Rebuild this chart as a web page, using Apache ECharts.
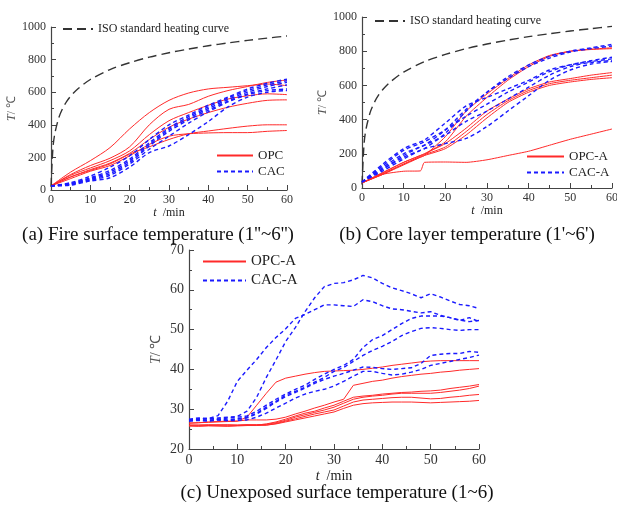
<!DOCTYPE html>
<html>
<head>
<meta charset="utf-8">
<script src="https://cdn.jsdelivr.net/npm/echarts@6/dist/echarts.min.js"></script>
<style>
  html, body { margin: 0; padding: 0; background: #fff; }
  #chart { width: 617px; height: 509px; }
</style>
</head>
<body>
<div id="chart"></div>
<script>
// ISO 834 standard heating curve
const tIso = [0, 0.5, 1, 2, 3, 4, 5, 7, 10, 15, 20, 25, 30, 35, 40, 45, 50, 55, 60]
const isoTemp = [20, 261, 349, 445, 502, 544, 576, 624, 678, 739, 781, 815, 842, 865, 885, 902, 918, 932, 945]

// (a) fire surface
const tA = [0, 5, 10, 15, 20, 25, 30, 35, 40, 45, 50, 55, 60]
const opcFire = [
  [25, 110, 180, 260, 375, 475, 550, 595, 620, 630, 640, 650, 640],
  [25, 95, 150, 195, 265, 400, 495, 525, 575, 610, 635, 660, 675],
  [25, 90, 135, 180, 240, 340, 425, 475, 520, 558, 578, 590, 585],
  [25, 80, 125, 165, 225, 310, 385, 435, 475, 508, 532, 550, 553],
  [25, 80, 120, 160, 220, 265, 310, 345, 362, 378, 392, 400, 400],
  [25, 70, 115, 150, 210, 280, 330, 345, 350, 352, 352, 360, 365]
]
const cacFire = [
  [25, 45, 85, 140, 210, 310, 400, 460, 520, 570, 620, 655, 680],
  [25, 40, 75, 120, 190, 290, 380, 450, 510, 565, 610, 645, 670],
  [25, 40, 70, 110, 180, 280, 370, 440, 500, 555, 600, 635, 660],
  [25, 35, 65, 100, 170, 270, 360, 430, 490, 545, 590, 620, 645],
  [25, 35, 60, 90, 160, 250, 330, 410, 480, 540, 585, 610, 620],
  [25, 30, 55, 75, 140, 230, 270, 340, 420, 510, 570, 600, 610]
]

// (b) core layer
const tB = [0, 5, 10, 14, 15, 20, 25, 30, 35, 40, 45, 50, 55, 60]
const opcCore = [
  [30, 90, 150, 190, 200, 270, 420, 530, 630, 710, 770, 800, 810, 815],
  [30, 80, 140, 180, 190, 300, 450, 550, 640, 720, 775, 800, 812, 820],
  [30, 90, 150, 190, 200, 260, 350, 450, 520, 580, 620, 640, 660, 675],
  [30, 85, 140, 185, 195, 240, 330, 430, 510, 570, 610, 630, 645, 660],
  [30, 80, 135, 180, 190, 230, 310, 410, 500, 560, 600, 620, 635, 645],
  [30, 80, 98, 100, 150, 152, 150, 165, 190, 215, 250, 285, 315, 345]
]
const cacCore = [
  [35, 110, 180, 220, 230, 320, 450, 560, 650, 720, 770, 800, 820, 840],
  [35, 120, 200, 240, 250, 340, 460, 560, 640, 710, 760, 795, 815, 830],
  [35, 130, 220, 260, 270, 340, 420, 490, 560, 620, 680, 720, 745, 765],
  [35, 140, 230, 270, 280, 380, 480, 530, 580, 630, 690, 720, 740, 755],
  [35, 110, 190, 240, 250, 310, 390, 450, 520, 590, 660, 710, 735, 745],
  [35, 100, 170, 220, 230, 260, 290, 360, 450, 540, 630, 690, 725, 740]
]

// (c) unexposed surface
const tC = [0, 2, 4, 6, 8, 10, 12, 14, 16, 18, 20, 22, 24, 26, 28, 30, 32, 34, 36, 38, 40, 42, 44, 46, 48, 50, 52, 54, 56, 58, 60]
const opcBack = [
  [26.5, 26.6, 26.7, 26.8, 26.9, 27, 28, 31, 34, 36.8, 37.8, 38.3, 38.8, 39.2, 39.5, 39.6, 39.7, 39.8, 40, 40.3, 40.6, 41, 41.3, 41.6, 41.9, 42.1, 42.2, 42.2, 42.2, 42.2, 42.2],
  [26.5, 26.6, 26.8, 26.9, 27, 27, 27.3, 27.3, 27.3, 27.5, 28, 28.8, 29.5, 30.3, 31, 31.8, 32.5, 36, 36.5, 37, 37.3, 37.8, 38.2, 38.5, 38.8, 39, 39.3, 39.5, 39.8, 40, 40.2],
  [26, 26, 26.1, 26, 26.1, 26, 26.1, 26, 26.3, 26.8, 27.5, 28.3, 29, 29.5, 30.3, 31, 32, 33, 33.3, 33.5, 33.8, 34, 34.2, 34.3, 34.5, 34.6, 34.8, 35.2, 35.5, 35.8, 36.2],
  [26, 26, 26, 26.1, 26, 26, 26.1, 26.1, 26.2, 26.6, 27.2, 28, 28.6, 29.2, 29.8, 30.5, 31.5, 32.5, 33, 33.3, 33.5, 33.8, 34, 34, 34, 34, 34.2, 34.5, 34.8, 35.2, 35.8],
  [25.8, 25.8, 25.9, 25.8, 25.8, 25.9, 25.9, 26, 26, 26.4, 27, 27.6, 28.2, 28.8, 29.3, 29.8, 30.8, 31.8, 32.3, 32.5, 32.7, 32.9, 33, 33, 32.8, 32.6, 32.7, 33, 33.2, 33.5, 33.7],
  [25.8, 25.7, 25.8, 25.8, 25.7, 25.8, 25.9, 25.9, 26, 26.3, 26.8, 27.3, 27.8, 28.3, 28.8, 29.3, 30.2, 31, 31.4, 31.6, 31.7, 31.8, 31.8, 31.8, 31.7, 31.6, 31.7, 31.8, 31.9, 32, 32.2]
]
const cacBack = [
  [27.5, 27.8, 27.6, 28.4, 32, 37, 39.8, 42.5, 45.5, 48, 50.2, 52.8, 53.8, 55, 56.2, 56.2, 56, 55.8, 57.5, 57, 56, 55.2, 55, 54.6, 54.2, 54.5, 53.6, 53, 52.4, 52, 52.3],
  [27.3, 27.6, 27.5, 27.8, 28, 28.2, 29.5, 33, 38, 42.4, 47, 50.5, 54.5, 58, 60.8, 61.6, 61.8, 62.5, 63.6, 63, 61.6, 60.5, 59.8, 59, 58, 59, 58.2, 57.2, 56.3, 56, 55.3],
  [27.3, 27.5, 27.8, 27.5, 27.8, 28, 28.3, 29.5, 31, 32.5, 33.8, 35, 36, 37.5, 38.8, 40, 41, 42.5, 45.5, 47.5, 48.5, 50, 51.5, 52.8, 53.4, 53.4, 53.4, 53, 52.3, 53, 52],
  [27.2, 27.4, 27.2, 27.5, 27.3, 27.6, 28, 29, 30.5, 32, 33.5, 34.5, 35.5, 36.8, 38, 39.5, 40.5, 42, 43.5, 44.8, 45.8, 47, 48.5, 49.5, 50.3, 50.5, 50.3, 50, 49.8, 50, 50],
  [27, 27.3, 27.1, 27.4, 27.2, 27.5, 27.8, 28.8, 30.2, 31.8, 33.2, 34.2, 35.3, 36.5, 37.5, 38.3, 39, 39.8, 40.6, 40.5, 40.2, 40, 40.2, 40.4, 41.5, 43.5, 43.8, 44, 44, 44.5, 44.3],
  [27, 27.2, 27, 27.3, 27.1, 27.2, 27.3, 28, 29, 30.3, 31.5, 32.8, 33.8, 34.5, 35, 35.8, 37, 38.3, 39.5, 39.5, 39, 38.6, 38.8, 39.3, 40, 41, 41.5, 42, 42.5, 43, 43.6]
]

const serif = '"Liberation Serif", "Times New Roman", serif'
const RED = '#ff2a2a'
const BLUE = '#1a1aff'
const ISO_NAME = 'ISO standard heating curve'

function pairs(ts, vs) {
  return ts.map((t, i) => [t, vs[i]])
}

function xAxisFor(gridIndex, labelSize, gap) {
  return {
    gridIndex: gridIndex,
    type: 'value',
    min: 0,
    max: 60,
    interval: 10,
    name: '{i|t}  /min',
    nameLocation: 'middle',
    nameGap: gap,
    nameTextStyle: {
      fontFamily: serif, fontSize: labelSize, color: '#222',
      rich: { i: { fontStyle: 'italic', fontFamily: serif, fontSize: labelSize, color: '#222' } }
    },
    axisLine: { lineStyle: { color: '#444', width: 1.2 } },
    axisTick: { inside: true, length: 5, lineStyle: { color: '#444' } },
    minorTick: { show: true, splitNumber: 2, length: 3, lineStyle: { color: '#444' } },
    axisLabel: { fontFamily: serif, fontSize: labelSize, color: '#333', margin: 4 },
    splitLine: { show: false }
  }
}

function yAxisFor(gridIndex, min, max, interval, labelSize, gap) {
  return {
    gridIndex: gridIndex,
    type: 'value',
    min: min,
    max: max,
    interval: interval,
    name: '{i|T}/ \u2103',
    nameLocation: 'middle',
    nameRotate: 90,
    nameGap: gap,
    nameTextStyle: {
      fontFamily: serif, fontSize: labelSize, color: '#555',
      rich: { i: { fontStyle: 'italic', fontFamily: serif, fontSize: labelSize, color: '#555' } }
    },
    axisLine: { show: true, lineStyle: { color: '#444', width: 1.2 } },
    axisTick: { show: true, inside: true, length: 5, lineStyle: { color: '#444' } },
    minorTick: { show: true, splitNumber: 2, length: 3, lineStyle: { color: '#444' } },
    axisLabel: { fontFamily: serif, fontSize: labelSize, color: '#333', margin: 5, formatter: v => String(v) },
    splitLine: { show: false }
  }
}

function lineSeries(name, idx, data, dashed, smooth) {
  return {
    name: name,
    type: 'line',
    xAxisIndex: idx,
    yAxisIndex: idx,
    data: data,
    symbol: 'none',
    smooth: smooth,
    animation: false,
    lineStyle: dashed
      ? { color: BLUE, width: 1.4, type: [4, 3] }
      : { color: RED, width: 1 },
    itemStyle: { color: dashed ? BLUE : RED }
  }
}

function isoSeries(idx) {
  return {
    name: ISO_NAME,
    type: 'line',
    xAxisIndex: idx,
    yAxisIndex: idx,
    data: pairs(tIso, isoTemp),
    symbol: 'none',
    smooth: 0.3,
    animation: false,
    lineStyle: { color: '#333', width: 1.4, type: [9, 5] },
    itemStyle: { color: '#333' }
  }
}

const series = [isoSeries(0), isoSeries(1)]
opcFire.forEach(v => series.push(lineSeries('OPC', 0, pairs(tA, v), false, 0.3)))
cacFire.forEach(v => series.push(lineSeries('CAC', 0, pairs(tA, v), true, 0.3)))
opcCore.forEach(v => series.push(lineSeries('OPC-A', 1, pairs(tB, v), false, 0.2)))
cacCore.forEach(v => series.push(lineSeries('CAC-A', 1, pairs(tB, v), true, 0.3)))
opcBack.forEach(v => series.push(lineSeries('OPC-A', 2, pairs(tC, v), false, false)))
cacBack.forEach(v => series.push(lineSeries('CAC-A', 2, pairs(tC, v), true, false)))

const legendText = size => ({ fontFamily: serif, fontSize: size, color: '#222' })
// legend shows only the line sample, not the symbol
const noSymbol = { opacity: 0 }

const chart = echarts.init(document.getElementById('chart'), null, { renderer: 'canvas' })
chart.setOption({
  backgroundColor: '#fff',
  animation: false,
  title: [
    { text: '(a) Fire surface temperature (1\'\'~6\'\')', left: 153, top: 221, textAlign: 'center',
      textStyle: { fontFamily: serif, fontSize: 19, fontWeight: 'normal', color: '#111' } },
    { text: '(b) Core layer temperature (1\'~6\')', left: 462, top: 221, textAlign: 'center',
      textStyle: { fontFamily: serif, fontSize: 19, fontWeight: 'normal', color: '#111' } },
    { text: '(c) Unexposed surface temperature (1~6)', left: 332, top: 479, textAlign: 'center',
      textStyle: { fontFamily: serif, fontSize: 19, fontWeight: 'normal', color: '#111' } }
  ],
  grid: [
    { left: 51, top: 27, width: 236, height: 163, outerBoundsMode: 'none' },
    { left: 362, top: 17, width: 250, height: 171, outerBoundsMode: 'none' },
    { left: 189, top: 250, width: 290, height: 199, outerBoundsMode: 'none' }
  ],
  xAxis: [xAxisFor(0, 12, 14), xAxisFor(1, 12, 14), xAxisFor(2, 14, 20)],
  yAxis: [
    yAxisFor(0, 0, 1000, 200, 12, 29),
    yAxisFor(1, 0, 1000, 200, 12, 33),
    yAxisFor(2, 20, 70, 10, 14, 26)
  ],
  legend: [
    { data: [ISO_NAME], left: 62, top: 23, padding: 0, itemWidth: 30, itemHeight: 10, itemStyle: noSymbol, textStyle: legendText(12), selectedMode: false },
    { data: ['OPC', 'CAC'], orient: 'vertical', left: 216, top: 149, padding: 0, itemGap: 3, itemWidth: 36, itemHeight: 10, itemStyle: noSymbol, textStyle: legendText(13), selectedMode: false },
    { data: [ISO_NAME], left: 374, top: 15, padding: 0, itemWidth: 30, itemHeight: 10, itemStyle: noSymbol, textStyle: legendText(12), selectedMode: false },
    { data: ['OPC-A', 'CAC-A'], orient: 'vertical', left: 526, top: 150, padding: 0, itemGap: 3, itemWidth: 37, itemHeight: 10, itemStyle: noSymbol, textStyle: legendText(13), selectedMode: false },
    { data: ['OPC-A', 'CAC-A'], orient: 'vertical', left: 202, top: 254, padding: 0, itemGap: 4, itemWidth: 43, itemHeight: 12, itemStyle: noSymbol, textStyle: legendText(15), selectedMode: false }
  ],
  series: series
})
</script>
</body>
</html>
